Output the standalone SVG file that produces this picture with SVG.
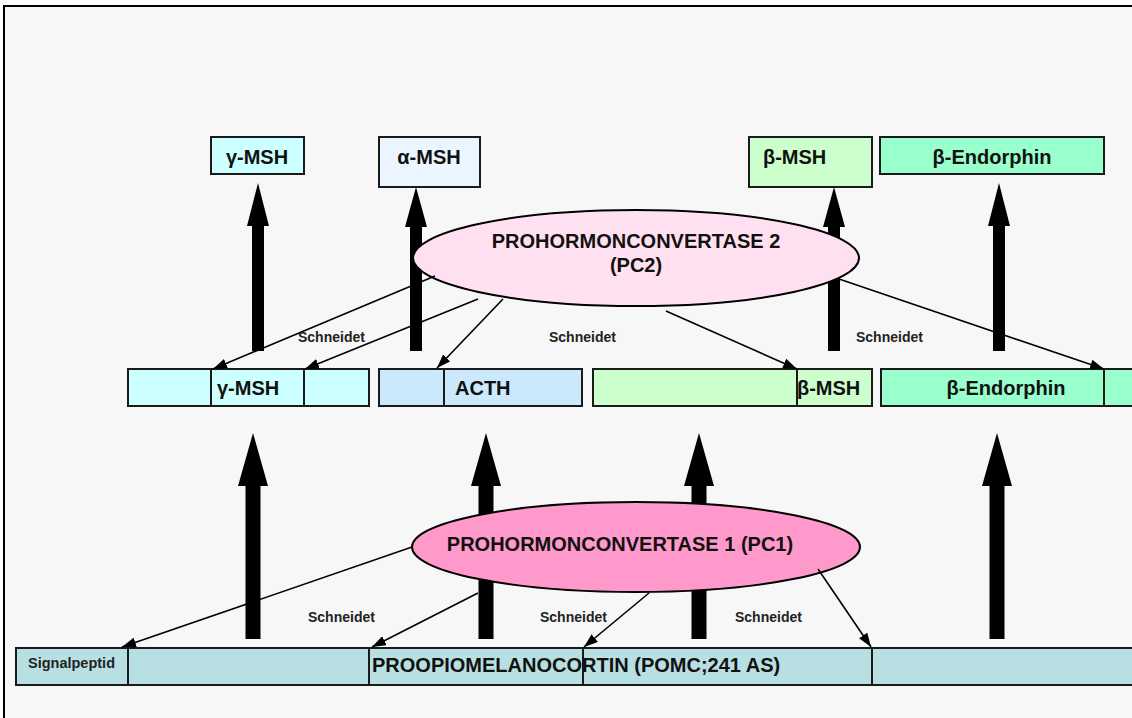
<svg xmlns="http://www.w3.org/2000/svg" width="1132" height="718" viewBox="0 0 1132 718">
<defs>
<marker id="ah" viewBox="0 0 14 10" refX="14" refY="5" markerWidth="14" markerHeight="10" markerUnits="userSpaceOnUse" orient="auto">
<path d="M0,0 L14,5 L0,10 z" fill="#000"/>
</marker>
</defs>
<style>
.box{stroke:#1a1a1a;stroke-width:2}
.div{stroke:#1a1a1a;stroke-width:2}
.lbl{font-family:"Liberation Sans",Arial,sans-serif;font-weight:bold;font-size:20px;fill:#111}
.sm{font-family:"Liberation Sans",Arial,sans-serif;font-weight:bold;font-size:14px;fill:#222}
.con{stroke:#000;stroke-width:1.6;fill:none;marker-end:url(#ah)}
.thick{fill:#000}
</style>
<rect x="0" y="0" width="1132" height="718" fill="#fff"/>
<rect x="4" y="6" width="1140" height="720" fill="#f7f7f7" stroke="#000" stroke-width="2"/>

<g id="top-gamma-msh">
<rect class="box" x="211" y="137" width="93" height="37" fill="#ccffff"/>
<text class="lbl" x="257" y="164" text-anchor="middle">γ-MSH</text>
</g>
<g id="top-alpha-msh">
<rect class="box" x="379" y="137" width="101" height="50" fill="#eaf5ff"/>
<text class="lbl" x="429" y="164" text-anchor="middle">α-MSH</text>
</g>
<g id="top-beta-msh">
<rect class="box" x="749" y="137" width="123" height="50" fill="#ccffcc"/>
<text class="lbl" x="763" y="164">β-MSH</text>
</g>
<g id="top-beta-endorphin">
<rect class="box" x="880" y="137" width="224" height="37" fill="#99ffcc"/>
<text class="lbl" x="992" y="164" text-anchor="middle">β-Endorphin</text>
</g>

<g id="mid-gamma">
<rect class="box" x="128" y="369" width="241" height="37" fill="#ccffff"/>
<line class="div" x1="211" y1="369" x2="211" y2="406"/>
<line class="div" x1="304" y1="369" x2="304" y2="406"/>
<text class="lbl" x="217" y="395">γ-MSH</text>
</g>
<g id="mid-acth">
<rect class="box" x="379" y="369" width="203" height="37" fill="#cce8fc"/>
<line class="div" x1="444" y1="369" x2="444" y2="406"/>
<text class="lbl" x="455" y="395">ACTH</text>
</g>
<g id="mid-beta-msh">
<rect class="box" x="593" y="369" width="279" height="37" fill="#ccffcc"/>
<line class="div" x1="797" y1="369" x2="797" y2="406"/>
<text class="lbl" x="797" y="395">β-MSH</text>
</g>
<g id="mid-beta-endorphin">
<rect class="box" x="881" y="369" width="254" height="37" fill="#99ffcc"/>
<line class="div" x1="1104" y1="369" x2="1104" y2="406"/>
<text class="lbl" x="1006" y="395" text-anchor="middle">β-Endorphin</text>
</g>

<g id="pomc">
<rect class="box" x="16" y="648" width="1120" height="37" fill="#b8e0e3"/>
<line class="div" x1="128" y1="648" x2="128" y2="685"/>
<line class="div" x1="369" y1="648" x2="369" y2="685"/>
<line class="div" x1="583" y1="648" x2="583" y2="685"/>
<line class="div" x1="872" y1="648" x2="872" y2="685"/>
<text class="sm" x="28" y="668" style="font-size:14.5px">Signalpeptid</text>
<text class="lbl" x="372" y="672">PROOPIOMELANOCORTIN (POMC;241 AS)</text>
</g>

<g id="thick-arrows">
<path class="thick" d="M252,351 L252,226 L247,226 L258,183 L269,226 L264,226 L264,351 z"/>
<path class="thick" d="M410,351 L410,227 L405,227 L416,187 L427,227 L422,227 L422,351 z"/>
<path class="thick" d="M828,351 L828,227 L823,227 L834,187 L845,227 L840,227 L840,351 z"/>
<path class="thick" d="M993,351 L993,226 L988,226 L999,183 L1010,226 L1005,226 L1005,351 z"/>
<path class="thick" d="M245.5,639 L245.5,486 L238,486 L253,433 L268,486 L260.5,486 L260.5,639 z"/>
<path class="thick" d="M478.5,639 L478.5,486 L471,486 L486,433 L501,486 L493.5,486 L493.5,639 z"/>
<path class="thick" d="M691.5,639 L691.5,486 L684,486 L699,433 L714,486 L706.5,486 L706.5,639 z"/>
<path class="thick" d="M989.5,639 L989.5,486 L982,486 L997,433 L1012,486 L1004.5,486 L1004.5,639 z"/>
</g>

<g id="pc2">
<ellipse cx="636" cy="258" rx="223" ry="48" fill="#ffe0f0" stroke="#000" stroke-width="2"/>
<text class="lbl" x="636" y="248" text-anchor="middle">PROHORMONCONVERTASE 2</text>
<text class="lbl" x="636" y="272" text-anchor="middle">(PC2)</text>
</g>
<g id="pc1">
<ellipse cx="636" cy="547" rx="224" ry="45" fill="#ff99cc" stroke="#000" stroke-width="2"/>
<text class="lbl" x="620" y="551" text-anchor="middle">PROHORMONCONVERTASE 1 (PC1)</text>
</g>

<g id="connectors">
<line class="con" x1="435" y1="276" x2="213" y2="369"/>
<line class="con" x1="478" y1="299" x2="305" y2="369"/>
<line class="con" x1="503" y1="299" x2="437" y2="368"/>
<line class="con" x1="666" y1="311" x2="797" y2="369"/>
<line class="con" x1="839" y1="279" x2="1104" y2="369"/>
<line class="con" x1="412" y1="547" x2="122" y2="647"/>
<line class="con" x1="478" y1="593" x2="372" y2="647"/>
<line class="con" x1="649" y1="593" x2="584" y2="647"/>
<line class="con" x1="818" y1="569" x2="871" y2="647"/>
</g>

<g id="labels">
<text class="sm" x="298" y="342">Schneidet</text>
<text class="sm" x="549" y="342">Schneidet</text>
<text class="sm" x="856" y="342">Schneidet</text>
<text class="sm" x="308" y="622">Schneidet</text>
<text class="sm" x="540" y="622">Schneidet</text>
<text class="sm" x="735" y="622">Schneidet</text>
</g>
</svg>
